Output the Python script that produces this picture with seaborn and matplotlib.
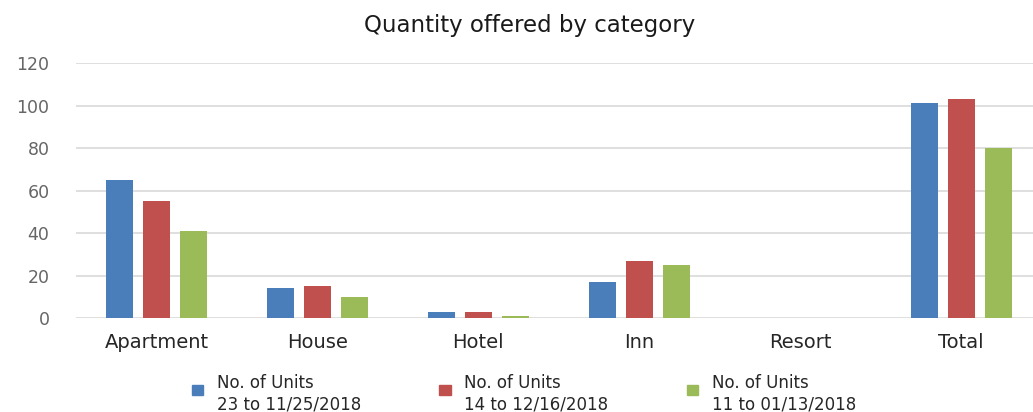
import matplotlib.pyplot as plt
import pandas as pd
import seaborn as sns
from matplotlib.legend_handler import HandlerPatch
from matplotlib.patches import Rectangle

categories = ["Apartment", "House", "Hotel", "Inn", "Resort", "Total"]
series_labels = [
    "No. of Units\n23 to 11/25/2018",
    "No. of Units\n14 to 12/16/2018",
    "No. of Units\n11 to 01/13/2018",
]
units_nov = [65, 14, 3, 17, 0, 101]
units_dec = [55, 15, 3, 27, 0, 103]
units_jan = [41, 10, 1, 25, 0, 80]
colors = ["#4A7EBB", "#C0504D", "#9BBB59"]

df = pd.DataFrame({
    "category": categories * 3,
    "series": [series_labels[0]] * 6 + [series_labels[1]] * 6 + [series_labels[2]] * 6,
    "value": units_nov + units_dec + units_jan,
})

sns.set_style("white")
plt.rcParams["font.family"] = ["DejaVu Sans"]

fig = plt.figure(figsize=(10.33, 4.12), dpi=100)
ax = fig.add_axes([0.0735, 0.228, 0.935, 0.619])

sns.barplot(
    data=df,
    x="category",
    y="value",
    hue="series",
    palette=colors,
    saturation=1,
    width=0.69,
    gap=0.26,
    linewidth=0,
    ax=ax,
    legend=False
)

ax.set_ylim(0, 120)
ax.set_yticks([0, 20, 40, 60, 80, 100, 120])
ax.yaxis.grid(True, color="#d9d9d9", linewidth=1.2)
ax.set_axisbelow(True)
for s in ax.spines.values():
    s.set_visible(False)

ax.set_xlabel("")
ax.set_ylabel("")
ax.tick_params(axis="y", length=0, pad=19, labelsize=12.5, labelcolor="#666666")
ax.tick_params(axis="x", length=0, pad=11, labelsize=14, labelcolor="#262626")

fig.text(0.513, 0.922, "Quantity offered by category", fontsize=16.5,
         ha="center", va="baseline", color="#1a1a1a")


def top_square(legend, orig_handle, xdescent, ydescent, width, height, fontsize):
    size = 0.7 * fontsize
    return Rectangle((-xdescent, -ydescent + height * 0.55), size, size * 0.85)


handles = [Rectangle((0, 0), 1, 1, color=c) for c in colors]
leg = fig.legend(
    handles,
    series_labels,
    loc="lower center",
    bbox_to_anchor=(0.507, -0.041),
    ncol=3,
    frameon=False,
    fontsize=12,
    handlelength=0.7,
    handleheight=1.0,
    handletextpad=0.8,
    columnspacing=4.7,
    labelcolor="#262626",
    handler_map={Rectangle: HandlerPatch(patch_func=top_square)}
)
for t in leg.get_texts():
    t.set_linespacing(1.25)

fig.savefig("out.png", dpi=100)
